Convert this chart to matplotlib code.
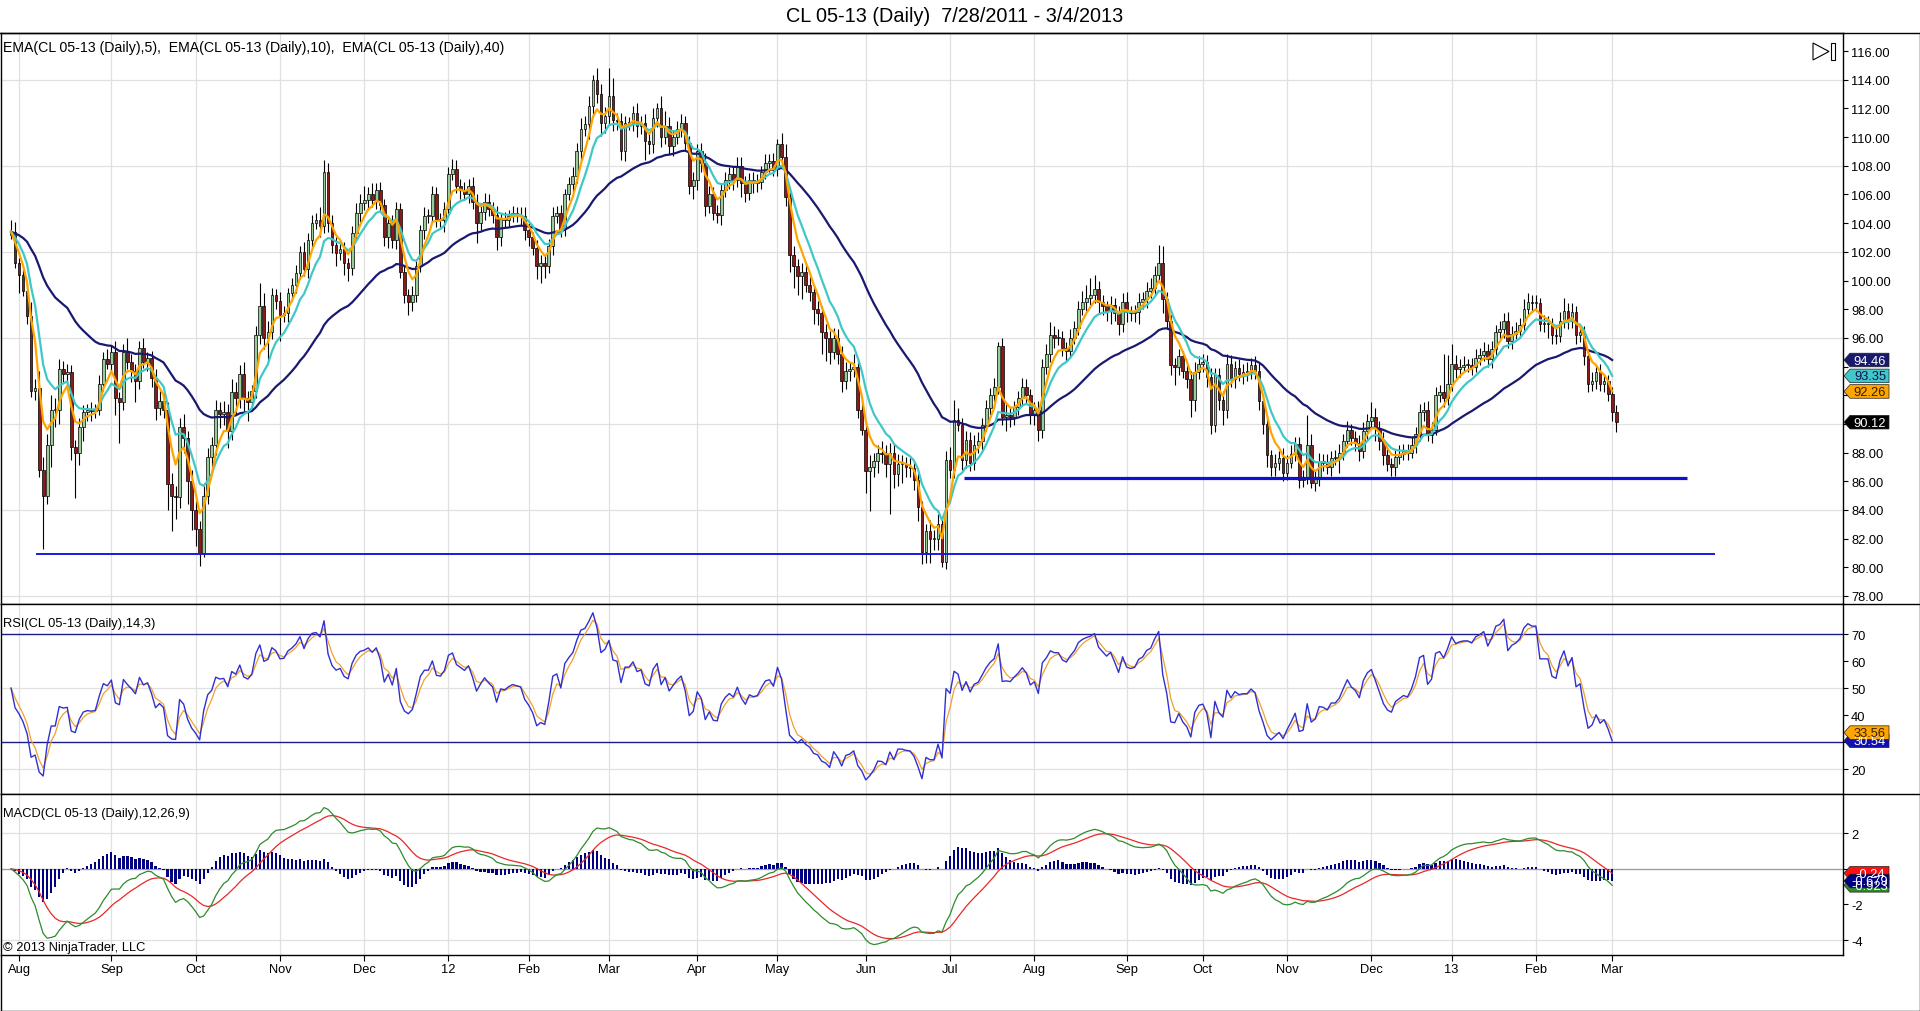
import numpy as np
import pandas as pd
import matplotlib
matplotlib.use("Agg")
import matplotlib.pyplot as plt
from matplotlib.patches import Polygon, Rectangle
from matplotlib.lines import Line2D

plt.rcParams['font.family'] = ['Liberation Sans', 'DejaVu Sans']

W, H = 1920, 1012
FS = 9.3

TITLE = "CL 05-13 (Daily)  7/28/2011 - 3/4/2013"
EMA_LABEL = "EMA(CL 05-13 (Daily),5),  EMA(CL 05-13 (Daily),10),  EMA(CL 05-13 (Daily),40)"
RSI_LABEL = "RSI(CL 05-13 (Daily),14,3)"
MACD_LABEL = "MACD(CL 05-13 (Daily),12,26,9)"
COPYRIGHT = "\u00a9 2013 NinjaTrader, LLC"

# trading sessions
FIRST_DAY, LAST_DAY = "2011-07-28", "2013-03-04"
HOLIDAYS = ["2011-09-05", "2011-11-24", "2011-12-26", "2012-01-02", "2012-01-16",
            "2012-02-20", "2012-04-06", "2012-05-28", "2012-07-04", "2012-09-03",
            "2012-10-29", "2012-10-30", "2012-11-22", "2012-12-25", "2013-01-01",
            "2013-01-21", "2013-02-18"]

# daily bars (open = prior close)
first_open = 103.2
closes = [
    103.4, 101.2, 100.4, 99.3, 97.5, 92.3, 92.5, 86.8, 85.0, 88.5,
    91.0, 91.0, 93.8, 93.5, 93.6, 88.4, 88.0, 89.8, 90.8, 91.0,
    90.9, 91.0, 92.8, 94.5, 94.2, 95.0, 91.8, 91.5, 95.0, 94.3,
    93.7, 93.0, 95.3, 94.3, 94.6, 93.2, 91.1, 91.6, 91.0, 85.8,
    85.0, 84.9, 89.8, 89.0, 86.0, 84.0, 82.7, 81.0, 85.0, 87.7,
    88.5, 91.0, 90.7, 90.8, 89.5, 92.2, 91.8, 93.5, 91.8, 91.5,
    92.3, 96.2, 98.2, 96.0, 96.4, 99.0, 98.6, 97.6, 97.7, 99.1,
    99.7, 100.5, 102.0, 100.8, 102.8, 104.0, 104.2, 103.8, 107.6, 104.0,
    102.5, 101.9, 102.2, 101.2, 100.9, 103.3, 104.7, 105.4, 105.6, 106.0,
    105.6, 106.3, 105.3, 103.0, 104.0, 102.8, 105.0, 100.6, 99.0, 98.5,
    99.0, 101.0, 103.5, 104.5, 104.5, 106.0, 104.3, 104.2, 105.0, 107.4,
    107.8, 106.6, 106.3, 106.0, 106.6, 105.5, 104.0, 104.8, 105.5, 105.0,
    104.6, 103.0, 104.3, 104.2, 104.5, 104.7, 104.6, 104.5, 103.5, 103.0, 102.3,
    101.0, 101.2, 101.0, 102.4, 104.5, 104.7, 103.6, 106.0, 106.7, 107.3,
    109.0, 110.6, 110.9, 112.2, 114.0, 113.0, 111.0, 111.5, 112.9, 111.2,
    111.1, 109.0, 111.0, 111.0, 111.7, 110.8, 111.0, 109.7, 109.5, 111.3,
    112.0, 110.0, 110.8, 109.4, 110.0, 110.6, 111.0, 109.6, 106.6, 107.0,
    109.0, 108.2, 105.2, 106.0, 104.7, 104.6, 106.3, 107.0, 107.4, 107.0,
    108.0, 106.8, 106.1, 107.0, 106.8, 106.9, 107.6, 108.2, 108.3, 107.8,
    109.5, 108.6, 105.8, 101.8, 101.0, 100.3, 100.6, 99.7, 99.2, 98.0,
    97.7, 96.4, 96.0, 95.0, 96.0, 94.9, 93.0, 93.7, 93.8, 94.0,
    91.0, 89.6, 86.7, 87.0, 87.4, 88.0, 87.9, 87.2, 88.0, 86.5,
    87.2, 87.2, 87.0, 86.9, 86.1, 84.2, 81.1, 82.5, 82.0, 82.0,
    83.0, 80.4, 87.5, 86.8, 90.3, 89.9, 87.5, 88.9, 87.3, 88.5,
    88.8, 89.9, 91.1, 92.0, 92.6, 95.4, 90.5, 90.6, 90.5, 91.2,
    91.8, 92.6, 92.0, 90.6, 91.0, 89.6, 94.0, 94.9, 96.2, 96.0,
    96.0, 95.3, 95.1, 96.0, 96.7, 98.0, 98.5, 98.8, 99.0, 99.4,
    98.5, 98.2, 97.9, 98.3, 97.7, 97.0, 98.5, 97.8, 97.7, 97.8,
    98.5, 98.7, 99.3, 99.5, 100.4, 101.2, 98.7, 97.2, 94.1, 94.0,
    94.7, 93.7, 93.1, 91.7, 93.6, 94.2, 94.3, 93.3, 89.9, 93.4,
    91.7, 91.0, 94.2, 93.1, 93.9, 93.5, 93.6, 93.6, 94.1, 93.7,
    91.6, 90.0, 87.8, 87.0, 87.3, 87.6, 86.6, 87.3, 87.9, 88.6,
    86.1, 86.2, 88.5, 85.9, 86.2, 87.4, 87.3, 87.0, 87.6, 87.6,
    88.0, 88.8, 89.6, 89.0, 88.7, 88.1, 89.5, 90.2, 90.5, 89.7,
    88.8, 87.8, 87.2, 87.0, 87.7, 87.9, 88.1, 88.0, 88.5, 89.3,
    90.8, 91.0, 89.2, 89.6, 92.0, 92.2, 91.8, 92.8, 94.2, 93.8,
    94.0, 94.1, 94.1, 94.0, 94.6, 94.8, 95.1, 94.5, 95.2, 96.4,
    96.6, 97.2, 95.8, 96.3, 96.5, 96.9, 98.0, 98.5, 98.4, 98.4,
    97.0, 97.0, 97.0, 96.2, 96.1, 97.2, 97.9, 97.2, 97.8, 96.2,
    96.4, 94.7, 92.8, 93.0, 93.6, 92.8, 93.0, 92.1, 90.8, 90.12,
]
wick_up = [
    0.8, 0.7, 0.4, 0.3, 0.5, 1.0, 0.6, 1.2, 0.9, 0.8,
    1.0, 0.8, 0.7, 0.6, 0.6, 0.5, 0.5, 0.6, 0.5, 0.4,
    0.5, 0.4, 0.6, 0.5, 0.7, 0.5, 0.8, 0.4, 0.6, 1.0,
    0.6, 0.5, 0.5, 0.7, 0.4, 0.5, 0.6, 0.7, 0.6, 0.5,
    0.8, 0.7, 0.6, 0.9, 0.5, 0.8, 0.6, 0.5, 0.7, 0.6,
    0.6, 0.7, 0.5, 0.8, 0.6, 0.9, 0.7, 0.6, 0.8, 0.5,
    0.4, 0.6, 1.6, 0.9, 0.8, 0.5, 0.4, 0.6, 0.5, 0.4,
    0.5, 0.6, 0.4, 0.7, 0.5, 0.6, 0.5, 0.9, 0.8, 0.6,
    0.6, 0.5, 0.6, 0.5, 0.4, 0.5, 0.7, 0.6, 1.0, 0.5,
    0.8, 0.5, 0.6, 0.4, 0.5, 0.6, 0.5, 0.4, 0.5, 0.4,
    0.6, 0.5, 0.4, 0.6, 0.5, 0.6, 0.5, 0.4, 0.5, 0.5,
    0.7, 0.6, 0.5, 0.6, 0.5, 0.6, 0.5, 0.5, 0.6, 0.5,
    0.5, 0.6, 0.4, 0.5, 0.4, 0.5, 0.4, 0.5, 0.6, 0.5, 0.4,
    0.5, 0.6, 0.5, 0.5, 0.6, 0.5, 0.6, 0.4, 0.5, 0.6,
    0.6, 0.7, 0.6, 0.7, 0.3, 0.8, 0.7, 0.6, 1.9, 1.2,
    0.5, 0.6, 0.5, 0.4, 0.5, 0.7, 0.5, 0.6, 0.6, 0.7,
    0.4, 0.9, 1.0, 0.6, 0.5, 0.5, 0.6, 0.5, 0.5, 0.6,
    0.5, 0.6, 0.7, 0.6, 0.5, 0.6, 0.5, 0.6, 0.5, 0.6,
    0.6, 0.6, 0.5, 0.5, 0.6, 0.5, 0.4, 0.6, 0.5, 0.6,
    0.4, 0.8, 0.9, 0.7, 0.6, 0.5, 0.6, 0.5, 0.6, 0.5,
    0.6, 0.5, 0.6, 0.5, 0.7, 0.6, 0.5, 0.6, 0.5, 0.9,
    0.5, 0.5, 0.6, 0.8, 0.6, 0.5, 0.8, 0.6, 0.7, 0.6,
    0.7, 0.6, 0.5, 0.6, 0.5, 0.5, 0.4, 0.5, 0.8, 0.6,
    0.7, 0.5, 0.6, 0.9, 1.4, 0.8, 0.5, 0.6, 0.5, 0.7,
    0.6, 0.5, 0.6, 0.5, 0.6, 0.3, 0.6, 0.8, 0.5, 0.4,
    0.5, 0.6, 0.5, 0.4, 0.5, 0.6, 0.5, 0.7, 0.9, 0.6,
    0.6, 0.5, 0.4, 0.6, 0.5, 0.6, 0.8, 0.9, 1.2, 1.0,
    0.6, 0.5, 0.4, 0.6, 0.5, 0.5, 0.6, 0.7, 0.4, 0.5,
    0.6, 0.5, 0.6, 0.7, 0.6, 1.3, 1.2, 0.5, 0.4, 0.5,
    0.5, 0.4, 0.5, 0.6, 0.7, 0.5, 0.6, 0.5, 0.6, 0.5,
    0.5, 0.6, 0.7, 0.6, 0.5, 0.6, 0.6, 0.7, 0.5, 0.6,
    0.6, 0.5, 0.5, 0.4, 0.6, 0.5, 0.7, 0.5, 0.6, 0.5,
    0.5, 0.6, 2.1, 0.8, 0.5, 0.6, 0.5, 0.6, 0.5, 0.6,
    0.6, 0.5, 0.6, 0.4, 0.5, 0.5, 0.6, 0.5, 1.0, 0.6,
    0.5, 0.6, 0.5, 0.4, 0.5, 0.6, 0.5, 0.5, 0.6, 0.5,
    0.6, 0.5, 0.6, 0.5, 0.6, 0.5, 2.7, 2.0, 1.4, 0.6,
    0.5, 0.6, 0.4, 0.5, 0.6, 0.5, 0.6, 0.5, 0.6, 0.5,
    0.6, 0.5, 0.6, 0.5, 0.6, 0.5, 0.7, 0.6, 0.5, 0.6,
    0.4, 0.6, 0.5, 0.4, 0.5, 0.6, 0.9, 0.5, 0.6, 0.4,
    0.5, 0.4, 0.5, 0.6, 0.5, 0.6, 0.5, 0.4, 0.5, 0.5,
]
wick_dn = [
    0.3, 0.3, 1.3, 0.4, 0.5, 0.4, 0.6, 0.5, 3.7, 0.6,
    1.5, 1.2, 1.0, 0.6, 0.8, 0.9, 3.2, 0.9, 1.0, 0.6,
    0.7, 0.5, 0.4, 0.5, 0.4, 0.6, 1.2, 2.8, 0.5, 0.5,
    0.8, 1.5, 0.6, 0.4, 0.6, 0.6, 0.8, 0.5, 0.6, 1.8,
    2.5, 1.5, 0.8, 1.0, 1.6, 1.4, 1.2, 0.9, 0.3, 0.6,
    0.8, 0.7, 1.0, 0.8, 1.2, 0.6, 1.1, 0.7, 0.9, 1.3,
    0.6, 0.5, 0.6, 0.8, 1.7, 0.5, 0.6, 1.8, 0.5, 0.6,
    0.5, 0.6, 0.4, 0.5, 0.6, 0.5, 0.4, 0.8, 0.5, 0.6,
    0.6, 0.9, 0.5, 0.8, 0.9, 0.5, 0.4, 0.6, 0.5, 0.7,
    0.5, 0.6, 0.5, 0.6, 0.7, 0.5, 0.6, 0.4, 0.6, 0.9,
    0.6, 0.5, 0.4, 0.6, 0.5, 0.4, 0.6, 0.5, 0.8, 0.5,
    0.4, 0.5, 0.6, 0.4, 0.6, 0.5, 1.4, 0.5, 0.6, 0.5,
    0.6, 0.9, 0.6, 0.5, 0.5, 0.4, 0.5, 0.6, 0.7, 0.6, 0.5,
    0.9, 1.2, 0.8, 0.5, 0.6, 0.5, 0.6, 0.5, 0.4, 0.5,
    0.5, 0.6, 0.5, 1.0, 0.8, 0.6, 0.9, 0.7, 0.6, 0.8,
    0.6, 0.6, 0.7, 0.5, 0.6, 0.8, 0.6, 1.3, 0.7, 0.6,
    0.6, 0.7, 0.5, 0.6, 0.7, 0.5, 0.6, 0.5, 0.6, 0.9,
    0.7, 0.6, 0.7, 0.5, 0.5, 0.6, 0.7, 0.5, 0.6, 0.7,
    0.5, 1.0, 0.6, 0.5, 0.7, 0.6, 0.5, 0.5, 0.6, 0.5,
    0.5, 0.6, 0.6, 1.2, 1.5, 1.3, 1.6, 0.5, 0.6, 1.0,
    0.8, 1.5, 1.6, 0.8, 0.5, 0.7, 0.8, 0.6, 0.7, 0.5,
    0.6, 0.4, 1.5, 2.8, 0.7, 0.8, 0.6, 0.9, 3.5, 1.0,
    0.8, 1.3, 0.7, 0.6, 0.7, 1.0, 0.9, 0.8, 1.7, 0.8,
    0.8, 0.4, 0.5, 0.6, 0.6, 0.4, 0.7, 0.6, 0.6, 0.5,
    0.5, 0.6, 0.4, 0.5, 0.4, 0.5, 0.6, 1.0, 0.7, 0.6,
    0.6, 0.5, 0.6, 0.6, 0.7, 0.8, 0.6, 0.5, 0.6, 0.7,
    0.5, 0.6, 0.7, 0.5, 0.4, 0.5, 0.4, 0.6, 0.5, 0.6,
    0.8, 0.6, 0.7, 0.9, 0.5, 0.8, 0.6, 0.7, 0.5, 0.6,
    0.8, 0.5, 0.6, 0.5, 0.6, 0.5, 1.0, 0.6, 0.7, 1.3,
    0.6, 0.5, 0.6, 1.2, 0.8, 0.5, 0.6, 0.7, 0.6, 0.5,
    0.7, 1.1, 0.6, 0.5, 0.6, 0.5, 0.7, 0.6, 0.5, 0.6,
    0.6, 0.7, 0.8, 0.6, 0.6, 0.5, 0.6, 0.5, 0.4, 0.5,
    0.6, 0.5, 0.4, 0.4, 0.6, 0.5, 0.6, 0.5, 0.6, 0.5,
    1.0, 0.5, 0.4, 0.5, 0.6, 0.7, 0.5, 0.6, 0.5, 0.9,
    0.6, 0.7, 0.5, 0.6, 0.6, 0.5, 0.4, 0.5, 0.4, 0.5,
    0.5, 0.6, 0.4, 0.5, 0.4, 0.5, 0.6, 0.5, 0.5, 0.6,
    0.5, 0.4, 0.5, 0.6, 0.4, 0.5, 0.4, 0.5, 0.6, 0.5,
    0.5, 0.6, 0.5, 0.6, 0.4, 0.5, 0.4, 0.5, 0.6, 0.5,
    0.5, 0.6, 1.0, 0.6, 0.5, 0.4, 0.5, 0.6, 0.5, 0.6,
    0.5, 0.6, 0.6, 0.5, 0.6, 0.5, 0.6, 0.5, 0.6, 0.7,
]

# drawn horizontal lines (level, first bar, last bar)
support_levels = [80.93, 86.24]
support_from = [6.3, 237.5]
support_to = [424.7, 417.7]

RSI_SEED = 0.5


def ema(v, n):
    a = 2.0 / (n + 1)
    out = np.empty(len(v))
    out[0] = v[0]
    for i in range(1, len(v)):
        out[i] = a * v[i] + (1 - a) * out[i - 1]
    return out


def rsi(v, period=14, smooth=3):
    d = np.diff(v, prepend=v[0])
    up, dn = np.clip(d, 0, None), np.clip(-d, 0, None)
    au = ad = RSI_SEED
    r = np.empty(len(v))
    avg = np.empty(len(v))
    r[0] = avg[0] = 50.0
    k = 2.0 / (1 + smooth)
    for i in range(1, len(v)):
        au = (au * (period - 1) + up[i]) / period
        ad = (ad * (period - 1) + dn[i]) / period
        r[i] = 100.0 if ad == 0 else 100 - 100 / (1 + au / ad)
        avg[i] = k * r[i] + (1 - k) * avg[i - 1]
    return r, avg


c = np.array(closes)
n = len(c)
o = np.r_[first_open, c[:-1]]
hi = np.maximum(o, c) + np.array(wick_up)
lo = np.minimum(o, c) - np.array(wick_dn)
x = np.arange(n)

dates = pd.bdate_range(FIRST_DAY, LAST_DAY, freq="C", holidays=HOLIDAYS)[:n]
months = dates.to_period("M")
starts = [i for i in range(1, len(dates)) if months[i] != months[i - 1]]
mlabels = [dates[i].strftime("%y") if dates[i].month == 1 else dates[i].strftime("%b") for i in starts]

# indicators are calculated on bar close -> last (open) bar excluded
cc = c[:-1]
xi = x[:-1]
e5, e10, e40 = ema(cc, 5), ema(cc, 10), ema(cc, 40)
r14, r_avg = rsi(cc)
macd = ema(cc, 12) - ema(cc, 26)
m_avg = ema(macd, 9)
m_diff = macd - m_avg

fig = plt.figure(figsize=(W / 100, H / 100), dpi=100)


def P(px, py):
    return px / W, 1 - py / H


AX_RIGHT = 1843
XL = (-10 / 3.991, (AX_RIGHT - 11) / 3.991 - 10 / 3.991)
GRID = "#e0e0e0"


def panel(top, bottom, ylim):
    ax = fig.add_axes([1 / W, 1 - bottom / H, (AX_RIGHT - 1) / W, (bottom - top) / H])
    ax.set_xlim(XL)
    ax.set_ylim(ylim)
    ax.set_xticks(starts)
    ax.grid(axis="x", color=GRID, lw=0.9, zorder=0)
    ax.set_axisbelow(True)
    ax.yaxis.tick_right()
    ax.tick_params(axis="y", direction="out", length=3.6, width=0.8, pad=2.2, labelsize=FS)
    ax.tick_params(axis="x", length=0, labelbottom=False)
    for s in ax.spines.values():
        s.set_linewidth(1.0)
    return ax


def set_ticks(axis, ticks, fmt, covered):
    # labels sitting under a value tag are hidden, as on the terminal
    span = axis.get_ylim()[1] - axis.get_ylim()[0]
    px = axis.bbox.height / span
    labels = []
    for t in ticks:
        hidden = any(abs(t - v) * px < 9 for v in covered)
        labels.append("" if hidden else fmt.format(t))
    axis.set_yticks(ticks)
    axis.set_yticklabels(labels)


ax = panel(34, 605, (77.44, 117.26))
ax_r = panel(605, 795, (10.87, 81.09))
ax_m = panel(795, 956, (-4.84, 4.21))

# price panel
for v in range(78, 116, 6):
    ax.axhline(v, color=GRID, lw=0.9, zorder=0)
set_ticks(ax, list(range(78, 117, 2)), "{:.2f}", [e40[-1], e10[-1], e5[-1], c[-1]])

upb = c >= o
body_lo = np.minimum(o, c)
body_h = np.maximum(np.abs(c - o), 0.07)
ax.vlines(x, lo, hi, color="black", lw=0.8, zorder=3)
ax.bar(x[upb], body_h[upb], bottom=body_lo[upb], width=0.68, color="#98cc98",
       edgecolor="black", linewidth=0.5, zorder=4)
ax.bar(x[~upb], body_h[~upb], bottom=body_lo[~upb], width=0.68, color="#8b1a1a",
       edgecolor="black", linewidth=0.5, zorder=4)
ax.plot(xi, e40, color="#191970", lw=1.6, zorder=5)
ax.plot(xi, e10, color="#40c8c8", lw=1.6, zorder=6)
ax.plot(xi, e5, color="#ffa500", lw=1.6, zorder=7)
ax.hlines(support_levels[0], support_from[0], support_to[0], color="#1a1ae0", lw=1.4, zorder=8)
ax.hlines(support_levels[1], support_from[1], support_to[1], color="#1010d0", lw=2.3, zorder=8)

# RSI panel
for v in (20, 50):
    ax_r.axhline(v, color=GRID, lw=0.9, zorder=0)
for v in (30, 70):
    ax_r.axhline(v, color="#1a1a8c", lw=1.0, zorder=2)
set_ticks(ax_r, [20, 30, 40, 50, 60, 70], "{:d}", [r14[-1], r_avg[-1]])
ax_r.plot(xi, r_avg, color="#f0a030", lw=0.9, zorder=3)
ax_r.plot(xi, r14, color="#3030d0", lw=1.0, zorder=4)

# MACD panel
for v in (2, -4):
    ax_m.axhline(v, color=GRID, lw=0.9, zorder=0)
ax_m.axhline(0, color="#a0a0a0", lw=1.0, zorder=1)
set_ticks(ax_m, [2, 0, -2, -4], "{:d}", [macd[-1], m_avg[-1], m_diff[-1]])
ax_m.bar(xi, m_diff, width=0.55, color="#000080", zorder=2)
ax_m.plot(xi, m_avg, color="#e82828", lw=0.9, zorder=3)
ax_m.plot(xi, macd, color="#2e8b2e", lw=0.9, zorder=4)
ax_m.tick_params(axis="x", length=4.3, width=0.8, direction="out", labelbottom=True,
                 labelsize=FS, pad=1.5)
ax_m.set_xticklabels(mlabels)

# texts
fig.text(*P(955, 16), TITLE, ha="center", va="center", fontsize=14.3)
fig.text(*P(3, 48), EMA_LABEL, ha="left", va="center", fontsize=10.2)
fig.text(*P(3, 624), RSI_LABEL, ha="left", va="center", fontsize=FS)
fig.text(*P(3, 814), MACD_LABEL, ha="left", va="center", fontsize=FS)
fig.text(*P(3, 948), COPYRIGHT, ha="left", va="center", fontsize=FS)

# outer frame
for seg in [((0, 34), (1919.5, 34)), ((AX_RIGHT, 605), (1919.5, 605)),
            ((AX_RIGHT, 795), (1919.5, 795)), ((1919.5, 34), (1919.5, 1011.5)),
            ((0.5, 1011.5), (1919.5, 1011.5)), ((0.5, 956), (0.5, 1011.5))]:
    (x0, y0), (x1, y1) = seg
    fig.add_artist(Line2D([x0 / W, x1 / W], [1 - y0 / H, 1 - y1 / H], color="black", lw=1.0))

# "go to end" icon
fig.add_artist(Polygon([P(1813, 44), P(1813, 61), P(1829, 52.5)], closed=True,
                       facecolor="white", edgecolor="black", lw=0.8, transform=fig.transFigure))
fig.add_artist(Rectangle(P(1831, 61), 3.5 / W, 17 / H, facecolor="white", edgecolor="black",
                         lw=0.8, transform=fig.transFigure))


def tag(axis, value, face, txt, label):
    yc = H - axis.transData.transform((0, value))[1]
    x0 = AX_RIGHT + 1
    hh = 6.8
    pts = [P(x0, yc), P(x0 + 6, yc - hh), P(x0 + 45, yc - hh), P(x0 + 45, yc + hh), P(x0 + 6, yc + hh)]
    fig.add_artist(Polygon(pts, closed=True, facecolor=face, edgecolor="#202020", lw=0.5,
                           transform=fig.transFigure, zorder=10))
    fig.text(*P(x0 + 26, yc + 0.5), label, ha="center", va="center", fontsize=FS, color=txt, zorder=11)


tag(ax, e40[-1], "#191970", "white", f"{e40[-1]:.2f}")
tag(ax, e10[-1], "#40c8c8", "#101050", f"{e10[-1]:.2f}")
tag(ax, e5[-1], "#ffa500", "#302000", f"{e5[-1]:.2f}")
tag(ax, c[-1], "black", "white", f"{c[-1]:.2f}")
tag(ax_r, r14[-1], "#1010b0", "white", f"{r14[-1]:.2f}")
tag(ax_r, r_avg[-1], "#ffa500", "#302000", f"{r_avg[-1]:.2f}")
tag(ax_m, macd[-1], "#2e8b2e", "white", f"{macd[-1]:.3f}")
tag(ax_m, m_avg[-1], "#ff1010", "white", f"{m_avg[-1]:.2f}")
tag(ax_m, m_diff[-1], "#000080", "white", f"{m_diff[-1]:.3f}")

fig.savefig("out.png", dpi=100)
